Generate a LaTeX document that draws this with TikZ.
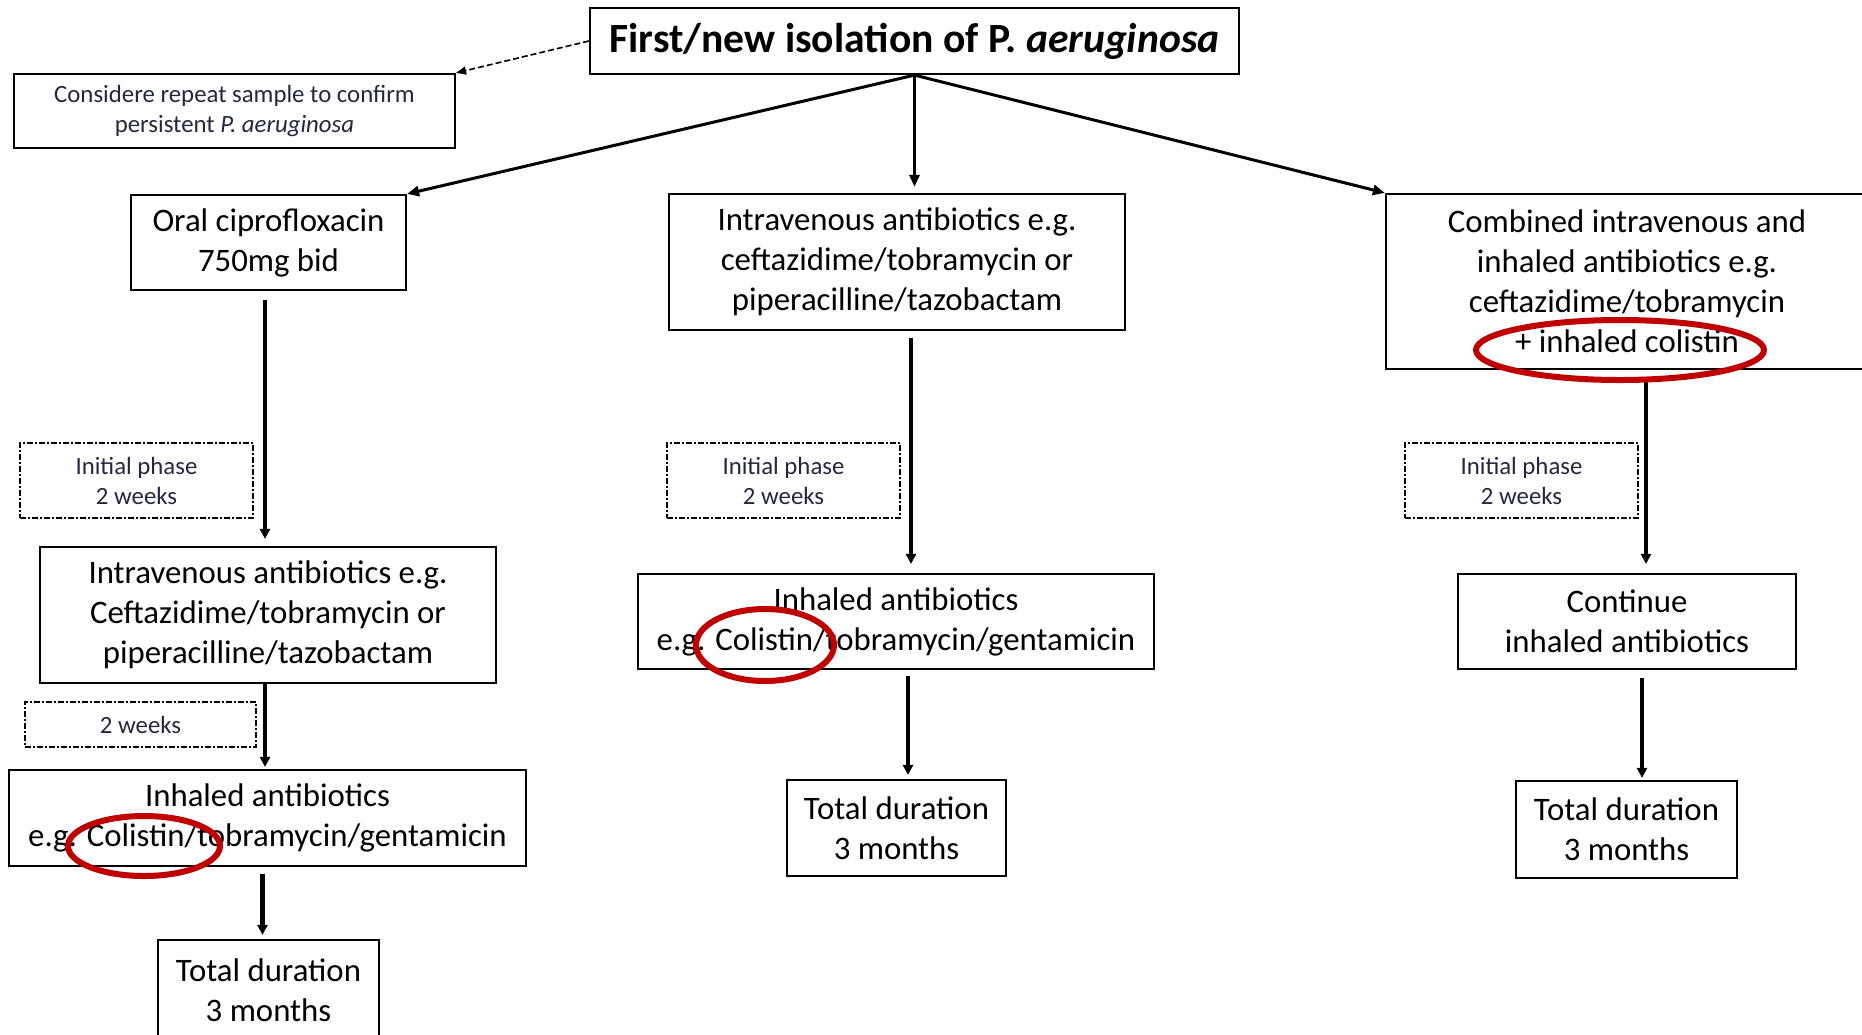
\documentclass[tikz,border=0pt]{standalone}
\usepackage{fontspec}
\setmainfont{Carlito}
\usepackage{tikz}
\usetikzlibrary{arrows.meta}
\definecolor{markred}{RGB}{192,0,0}
\definecolor{navytext}{RGB}{35,40,62}
\tikzset{
  stepbox/.style={draw,line width=1.1pt,align=center,inner sep=2pt,
    font=\fontsize{16.4}{20}\selectfont},
  phasebox/.style={draw,line width=0.8pt,dash pattern=on 3pt off 1pt on 1pt off 1pt,
    align=center,inner sep=2pt,text=navytext,font=\fontsize{12.4}{15}\selectfont},
  flow/.style={line width=2.2pt,-{Triangle[length=5pt,width=5pt]}},
  branch/.style={line width=1.5pt,-{Triangle[length=6pt,width=5pt]}},
  redmark/.style={draw=markred,line width=3pt}
}
\newcommand{\stepnode}{\node[stepbox]}
\newcommand{\phasenode}{\node[phasebox]}
\begin{document}
\begin{tikzpicture}[x=0.5pt,y=-0.5pt]
  \useasboundingbox (0,0) rectangle (1862,1034);
  % top
  \node[draw,line width=1.1pt,minimum width=324.5pt,minimum height=33pt,
    font=\fontsize{20.8}{24}\selectfont\bfseries] (first) at (914.5,41)
    {First/new isolation of P. \textit{aeruginosa}};
  \node[draw,line width=1.1pt,minimum width=220.5pt,minimum height=37pt,align=center,
    text=navytext,font=\fontsize{12.4}{15}\selectfont] (repeat) at (234.5,111)
    {Considere repeat sample to confirm\\persistent \textit{P. aeruginosa}};
  % branches
  \stepnode[minimum width=137.5pt,minimum height=47.5pt] (oral) at (268.5,242.5)
    {Oral ciprofloxacin\\750mg bid};
  \stepnode[minimum width=228pt,minimum height=68pt] (ivmid) at (897,262)
    {Intravenous antibiotics e.g.\\ceftazidime/tobramycin or\\piperacilline/tazobactam};
  \stepnode[minimum width=241pt,minimum height=87.5pt] (comb) at (1627,281.5)
    {Combined intravenous and\\inhaled antibiotics e.g.\\ceftazidime/tobramycin\\+ inhaled colistin};
  % left column
  \phasenode[minimum width=116.5pt,minimum height=37.5pt] (phaseL) at (136.5,480.5)
    {Initial phase\\2 weeks};
  \stepnode[minimum width=228pt,minimum height=68pt] (ivL) at (268,615)
    {Intravenous antibiotics e.g.\\Ceftazidime/tobramycin or\\piperacilline/tazobactam};
  \phasenode[minimum width=115.5pt,minimum height=22.5pt] (weeksL) at (140.5,724.5)
    {2 weeks};
  \stepnode[minimum width=258.5pt,minimum height=48pt] (inhL) at (267.5,818)
    {Inhaled antibiotics\\e.g. Colistin/tobramycin/gentamicin};
  \stepnode[minimum width=110.5pt,minimum height=50pt] (totL) at (268.5,990)
    {Total duration\\3 months};
  % middle column
  \phasenode[minimum width=116.5pt,minimum height=37.5pt] (phaseM) at (783.5,480.5)
    {Initial phase\\2 weeks};
  \stepnode[minimum width=258pt,minimum height=47.5pt] (inhM) at (896,621.5)
    {Inhaled antibiotics\\e.g. Colistin/tobramycin/gentamicin};
  \stepnode[minimum width=109.5pt,minimum height=48pt] (totM) at (896.5,828)
    {Total duration\\3 months};
  % right column
  \phasenode[minimum width=116.5pt,minimum height=37.5pt] (phaseR) at (1521.5,480.5)
    {Initial phase\\2 weeks};
  \stepnode[minimum width=169pt,minimum height=47.5pt] (cont) at (1627,621.5)
    {Continue\\inhaled antibiotics};
  \stepnode[minimum width=110.5pt,minimum height=48.5pt] (totR) at (1626.5,829.5)
    {Total duration\\3 months};
  % connectors
  \draw[line width=0.8pt,dash pattern=on 3pt off 1.5pt,-{Triangle[length=5pt,width=4pt]}]
    (first.west) -- (repeat.north east);
  \draw[branch] (first.south) -- (oral.north east);
  \draw[branch,shorten >=3pt] (first.south) -- (first.south |- ivmid.north);
  \draw[branch] (first.south) -- (comb.north west);
  \draw[flow,shorten <=4.5pt,shorten >=3.5pt] ([xshift=-1.75pt]oral.south) -- ([xshift=-1.75pt]oral.south |- ivL.north);
  \draw[flow,shorten >=1pt] ([xshift=-1.5pt]ivL.south) -- ([xshift=-1.5pt]ivL.south |- inhL.north);
  \draw[flow,shorten <=3.5pt,shorten >=2pt] ([xshift=-2.5pt]inhL.south) -- ([xshift=-2.5pt]inhL.south |- totL.north);
  \draw[flow,shorten <=3.5pt,shorten >=4.5pt] ([xshift=7pt]ivmid.south) -- ([xshift=7pt]ivmid.south |- inhM.north);
  \draw[flow,shorten <=3pt,shorten >=2pt] ([xshift=6pt]inhM.south) -- ([xshift=6pt]inhM.south |- totM.north);
  \draw[flow,shorten <=5.5pt,shorten >=4.5pt] ([xshift=9.5pt]comb.south) -- ([xshift=9.5pt]comb.south |- cont.north);
  \draw[flow,shorten <=4pt,shorten >=1pt] ([xshift=7.5pt]cont.south) -- ([xshift=7.5pt]cont.south |- totR.north);
  % red marks
  \draw[redmark] (1620,350) ellipse [x radius=72pt,y radius=15pt];
  \draw[redmark] (765,645) ellipse [x radius=34.5pt,y radius=18pt];
  \draw[redmark] (144,846) ellipse [x radius=38pt,y radius=15pt];
\end{tikzpicture}
\end{document}
